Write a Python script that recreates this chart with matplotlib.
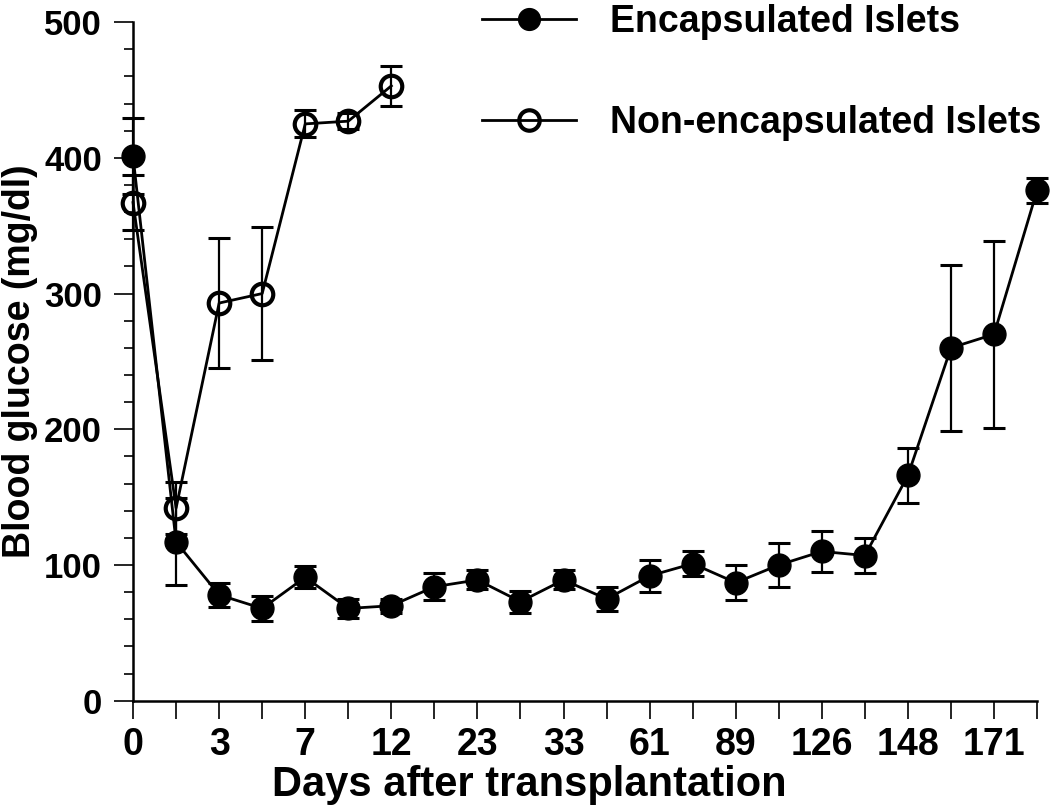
import numpy as np
import matplotlib
matplotlib.use('Agg')
from matplotlib import pyplot as plt
from matplotlib.ticker import MultipleLocator

plt.rcParams['font.family'] = ['Liberation Sans', 'DejaVu Sans']
plt.rcParams['font.weight'] = 'bold'

day_labels = ['0', '', '3', '', '7', '', '12', '', '23', '', '33', '',
              '61', '', '89', '', '126', '', '148', '', '171', '']

encap_mean = [401, 117, 78, 68, 91, 68, 70, 84, 89, 73, 89, 75,
              92, 101, 87, 100, 110, 107, 166, 260, 270, 376]
encap_err = [28, 32, 9, 9, 8, 7, 5, 10, 7, 8, 7, 9,
             12, 9, 13, 16, 15, 13, 20, 61, 69, 9]

nonencap_mean = [367, 142, 293, 300, 425, 427, 453]
nonencap_err = [20, 19, 48, 49, 10, 6, 15]

x_enc = np.arange(len(encap_mean))
x_non = np.arange(len(nonencap_mean))

fig = plt.figure(figsize=(10.5, 8.06), dpi=100)
ax = fig.add_axes([0.1267, 0.1306, 0.861, 0.842])

eb = dict(fmt='none', ecolor='black', elinewidth=1.6, capsize=8, capthick=2.2, clip_on=False)
ax.errorbar(x_enc, encap_mean, yerr=encap_err, **eb)
ax.errorbar(x_non, nonencap_mean, yerr=nonencap_err, **eb)

l1, = ax.plot(x_enc, encap_mean, color='black', linewidth=2.0, marker='o',
              markersize=16.5, markerfacecolor='black', markeredgecolor='black',
              clip_on=False, zorder=3)
l2, = ax.plot(x_non, nonencap_mean, color='black', linewidth=2.0, marker='o',
              markersize=15.5, markerfacecolor='none', markeredgecolor='black',
              markeredgewidth=3, clip_on=False, zorder=3)

ax.set_xlim(0, 21)
ax.set_ylim(0, 500)
ax.set_xticks(x_enc)
ax.set_xticklabels(day_labels)
ax.yaxis.set_major_locator(MultipleLocator(100))
ax.yaxis.set_minor_locator(MultipleLocator(20))

for s in ['top', 'right']:
    ax.spines[s].set_visible(False)
for s in ['left', 'bottom']:
    ax.spines[s].set_linewidth(1.8)

ax.tick_params(axis='x', direction='out', length=13, width=1.2, pad=6, labelsize=27)
ax.tick_params(axis='y', which='major', direction='out', length=13.5, width=1.2, pad=9, labelsize=25)
ax.tick_params(axis='y', which='minor', direction='out', length=6.5, width=1.2)

ax.set_xlabel('Days after transplantation', fontsize=30, fontweight='bold')
ax.xaxis.set_label_coords(0.438, -0.095)
ax.set_ylabel('Blood glucose (mg/dl)', fontsize=27, fontweight='bold', labelpad=4)

fig.legend([l1, l2], ['Encapsulated Islets', 'Non-encapsulated Islets'],
           loc='upper left', bbox_to_anchor=(0.445, 1.014), frameon=False,
           fontsize=27, handlelength=2.5, handletextpad=0.9, labelspacing=1.75,
           markerscale=0.95, borderaxespad=0)

plt.savefig('out.png', dpi=100)
